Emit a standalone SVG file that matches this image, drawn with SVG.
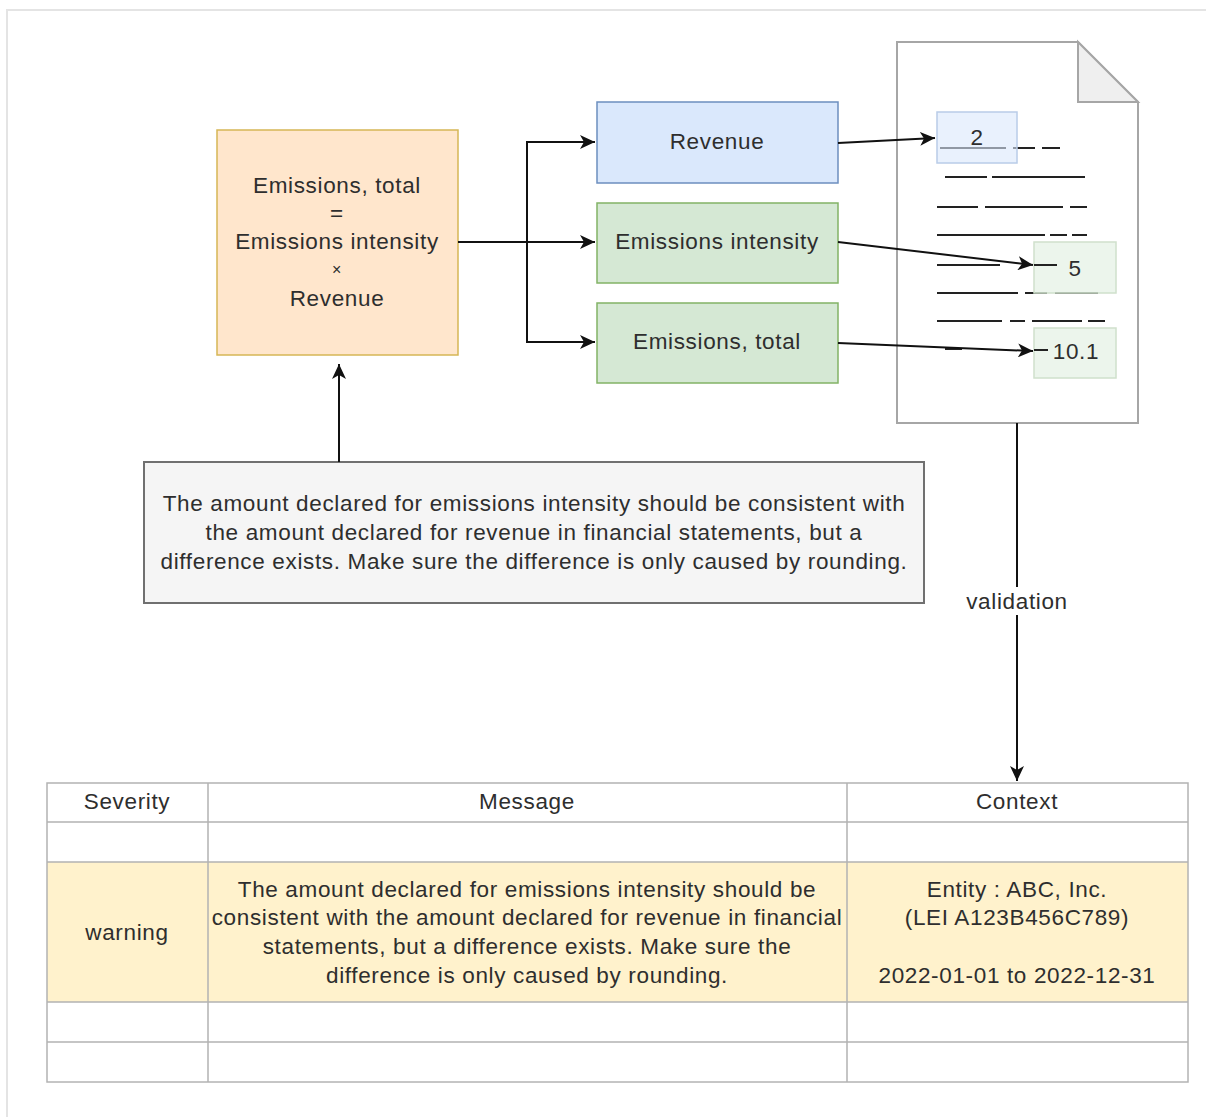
<svg xmlns="http://www.w3.org/2000/svg" width="1206" height="1117" viewBox="0 0 1206 1117">
<style>
text{font-family:"Liberation Sans",Arial,sans-serif;font-size:22.5px;letter-spacing:0.65px;fill:#2e2e2e;text-anchor:middle;dominant-baseline:central}
.conn{fill:none;stroke:#111;stroke-width:2}
.doc-line{stroke:#222;stroke-width:2;fill:none}
.grid{stroke:#b3b3b3;stroke-width:1.5;fill:none}
</style>
<defs>
<marker id="arr" markerUnits="userSpaceOnUse" markerWidth="16" markerHeight="14" refX="15" refY="7" orient="auto">
<path d="M0,0 L15,7 L0,14 L4,7 Z" fill="#111"/>
</marker>
</defs>
<rect width="1206" height="1117" fill="#fff"/>
<path d="M7,1117 V10 H1206" fill="none" stroke="#e4e4e4" stroke-width="2"/>

<g id="formula">
<rect x="217" y="130" width="241" height="225" fill="#ffe6cc" stroke="#d6b656" stroke-width="1.5"/>
<text x="337" y="185">Emissions, total</text>
<text x="337" y="213">=</text>
<text x="337" y="241">Emissions intensity</text>
<text x="337" y="269" style="font-size:16px">×</text>
<text x="337" y="298">Revenue</text>
</g>

<g id="revenue">
<rect x="597" y="102" width="241" height="81" fill="#dae8fc" stroke="#6c8ebf" stroke-width="1.5"/>
<text x="717" y="141">Revenue</text>
</g>
<g id="intensity">
<rect x="597" y="203" width="241" height="80" fill="#d5e8d4" stroke="#82b366" stroke-width="1.5"/>
<text x="717" y="241">Emissions intensity</text>
</g>
<g id="total">
<rect x="597" y="303" width="241" height="80" fill="#d5e8d4" stroke="#82b366" stroke-width="1.5"/>
<text x="717" y="341">Emissions, total</text>
</g>

<g id="document">
<path d="M897,42 H1078 L1138,102 V423 H897 Z" fill="#fff" stroke="#a6a6a6" stroke-width="2"/>
<path d="M1078,42 V102 H1138 Z" fill="#efefef" stroke="#a6a6a6" stroke-width="2"/>
<g class="doc-line">
<path d="M940,148 H1006 M1013,148 H1035 M1042,148 H1060"/>
<path d="M945,177 H987 M992,177 H1085"/>
<path d="M937,207 H978 M985,207 H1063 M1070,207 H1087"/>
<path d="M937,235 H1045 M1050,235 H1067 M1072,235 H1087"/>
<path d="M937,265 H1000"/>
<path d="M937,293 H1018 M1025,293 H1047 M1055,293 H1098"/>
<path d="M937,321 H1002 M1010,321 H1025 M1032,321 H1082 M1088,321 H1105"/>
<path d="M945,349 H962"/>
</g>
</g>
<g id="value-revenue">
<rect x="937" y="112" width="80" height="51" fill="#dae8fc" fill-opacity="0.6" stroke="#b9cce8" stroke-width="1.5"/>
<text x="977" y="137">2</text>
</g>
<g id="value-intensity">
<rect x="1034" y="242" width="82" height="51" fill="#d5e8d4" fill-opacity="0.45" stroke="#cfe0cc" stroke-width="1.5"/>
<path d="M1034,265 H1057" class="doc-line"/>
<text x="1075" y="268">5</text>
</g>
<g id="value-total">
<rect x="1034" y="328" width="82" height="50" fill="#d5e8d4" fill-opacity="0.45" stroke="#cfe0cc" stroke-width="1.5"/>
<path d="M1034,350 H1048" class="doc-line"/>
<text x="1076" y="351">10.1</text>
</g>

<g id="note">
<rect x="144" y="462" width="780" height="141" fill="#f5f5f5" stroke="#707070" stroke-width="2"/>
<text x="534" y="503">The amount declared for emissions intensity should be consistent with</text>
<text x="534" y="532">the amount declared for revenue in financial statements, but a</text>
<text x="534" y="561">difference exists. Make sure the difference is only caused by rounding.</text>
</g>

<g id="connectors">
<path class="conn" d="M458,242 H595" marker-end="url(#arr)"/>
<path class="conn" d="M527,242 V142 H595" marker-end="url(#arr)"/>
<path class="conn" d="M527,242 V342 H595" marker-end="url(#arr)"/>
<path class="conn" d="M838,143 L935,138" marker-end="url(#arr)"/>
<path class="conn" d="M838,242 L1033,265" marker-end="url(#arr)"/>
<path class="conn" d="M838,343 L1033,351" marker-end="url(#arr)"/>
<path class="conn" d="M339,462 V364" stroke="#555" stroke-width="2.5" marker-end="url(#arr)"/>
<path class="conn" d="M1017,423 V781" marker-end="url(#arr)"/>
<rect x="962" y="587" width="110" height="28" fill="#fff"/>
<text x="1017" y="601">validation</text>
</g>

<g id="table">
<rect x="47" y="862" width="1141" height="140" fill="#fff2cc"/>
<rect x="47" y="783" width="1141" height="299" class="grid"/>
<path class="grid" d="M47,822 H1188 M47,862 H1188 M47,1002 H1188 M47,1042 H1188 M208,783 V1082 M847,783 V1082"/>
<text x="127" y="801">Severity</text>
<text x="527" y="801">Message</text>
<text x="1017" y="801">Context</text>
<text x="127" y="932">warning</text>
<text x="527" y="889">The amount declared for emissions intensity should be</text>
<text x="527" y="917">consistent with the amount declared for revenue in financial</text>
<text x="527" y="946">statements, but a difference exists. Make sure the</text>
<text x="527" y="975">difference is only caused by rounding.</text>
<text x="1017" y="889">Entity : ABC, Inc.</text>
<text x="1017" y="917">(LEI A123B456C789)</text>
<text x="1017" y="975">2022-01-01 to 2022-12-31</text>
</g>
</svg>
